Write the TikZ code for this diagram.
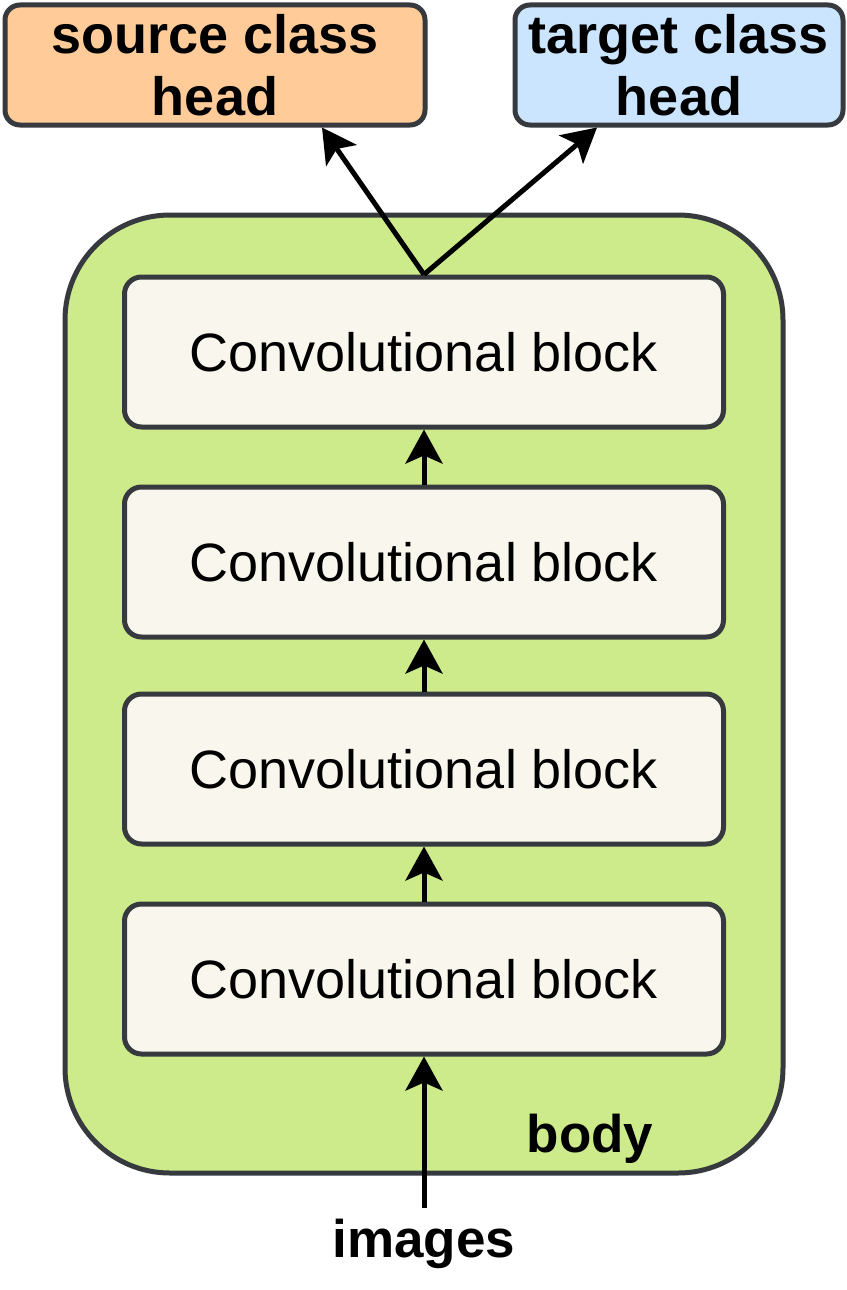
\documentclass[tikz,border=0pt]{standalone}
\usepackage{fontspec}
\setmainfont{Liberation Sans}
\usetikzlibrary{arrows.meta}
\definecolor{strokec}{HTML}{36393D}
\definecolor{srcfill}{HTML}{FFCC99}
\definecolor{tgtfill}{HTML}{CCE5FF}
\definecolor{bodyfill}{HTML}{CDEB8B}
\definecolor{convfill}{HTML}{F9F7ED}
\begin{document}
\begin{tikzpicture}[x=1pt,y=-1pt,
  headbox/.style={draw=strokec,line width=5pt,rounded corners=15pt,inner sep=0pt,
    minimum height=120pt,align=center,font=\fontsize{54}{62}\selectfont\bfseries},
  convbox/.style={draw=strokec,fill=convfill,line width=5pt,rounded corners=17pt,inner sep=0pt,
    minimum width=599pt,minimum height=150pt,font=\fontsize{54}{62}\selectfont},
  bodybox/.style={draw=strokec,fill=bodyfill,line width=5pt,rounded corners=105pt,inner sep=0pt,
    minimum width=718pt,minimum height=958pt},
  lbl/.style={font=\fontsize{53}{62}\selectfont\bfseries,inner sep=0pt},
  flow/.style={line width=5pt,-{Stealth[length=34pt,width=37pt,inset=8pt]}}
]
\useasboundingbox (0,0) rectangle (846,1290);
\node[headbox,fill=srcfill,minimum width=420pt] (src) at (215,65) {source class\\head};
\node[headbox,fill=tgtfill,minimum width=328pt] (tgt) at (679,65) {target class\\head};
\node[bodybox] (body) at (424,694) {};
\node[convbox] (c4) at (424,352) {Convolutional block};
\node[convbox] (c3) at (424,562) {Convolutional block};
\node[convbox] (c2) at (424,769) {Convolutional block};
\node[convbox] (c1) at (424,979) {Convolutional block};
\node[lbl,anchor=base] (bodylbl) at (590,1152) {body};
\node[lbl,anchor=base,inner ysep=10pt] (img) at (424,1257) {images};
\draw[flow] (img.north) -- (c1.south);
\draw[flow] (c1.north) -- (c2.south);
\draw[flow] (c2.north) -- (c3.south);
\draw[flow] (c3.north) -- (c4.south);
\draw[flow] (c4.north) -- ([xshift=107pt]src.south);
\draw[flow] (c4.north) -- ([xshift=-82pt]tgt.south);
\end{tikzpicture}
\end{document}
